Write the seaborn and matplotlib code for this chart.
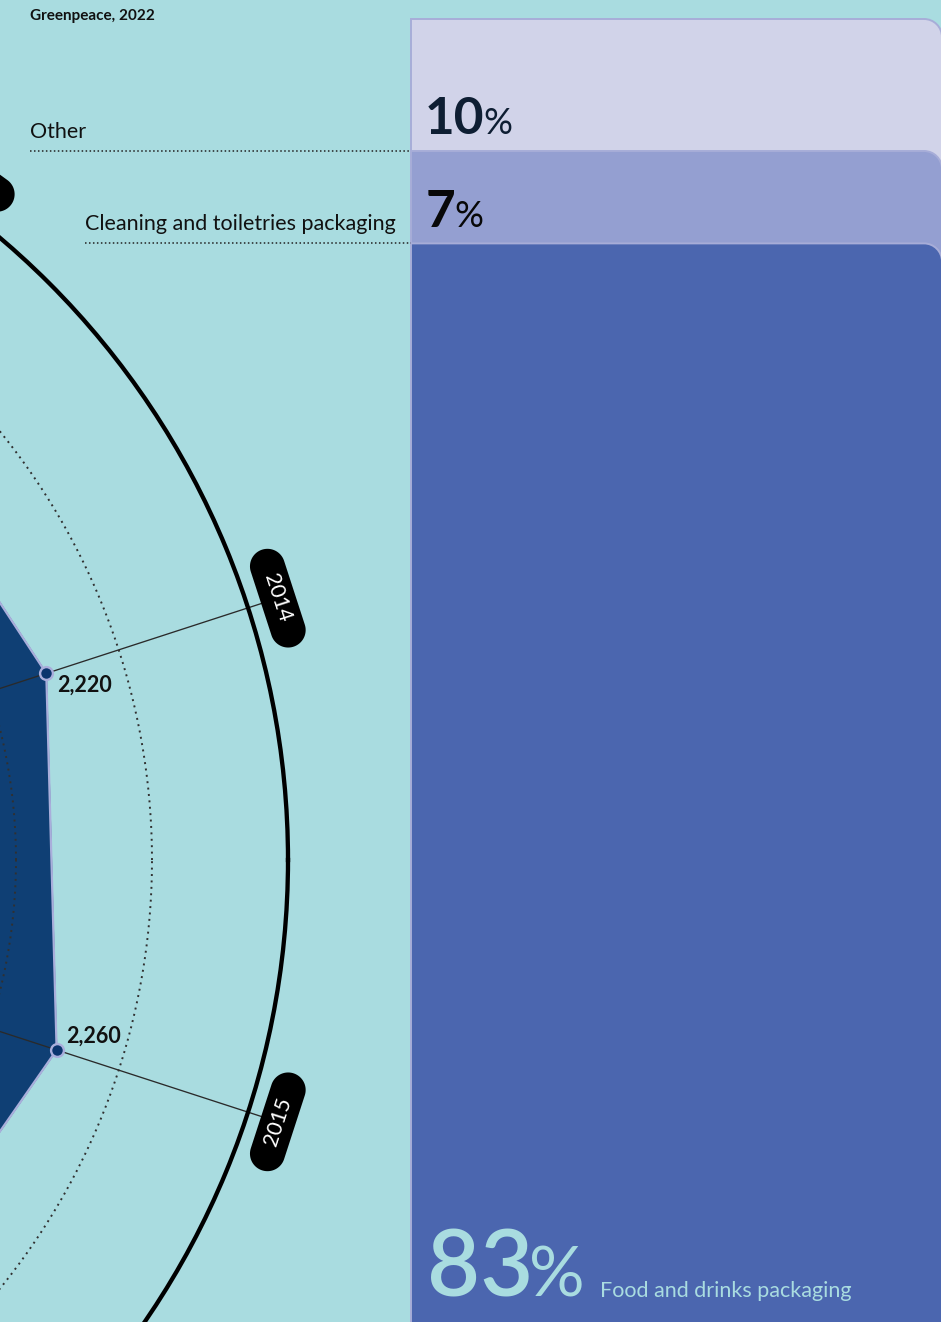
import numpy as np
import pandas as pd
import matplotlib
matplotlib.use("Agg")
import matplotlib.pyplot as plt
import seaborn as sns
from matplotlib.path import Path
from matplotlib.patches import PathPatch, Polygon

# ---------------- data ----------------
years = [2010, 2011, 2012, 2013, 2014, 2015, 2016, 2017, 2018, 2019]
waste_values = [2240, 2260, 2300, 2290, 2220, 2260, 2290, 2300, 2280, 2250]
ring_values = [2000, 2500]
outer_value = 3000
pill_value = 3115

categories = ["Other", "Cleaning and toiletries packaging", "Food and drinks packaging"]
shares = [10, 7, 83]
source_text = "Greenpeace, 2022"

# ---------------- style ----------------
BG = "#A9DCE0"
FILL = "#0F3F74"
EDGE = "#A9AEDB"
POINT = "#0B356E"
SEG_COLORS = ["#D1D3E9", "#949FD1", "#4B66AF"]
BORDER = "#A7ADD8"
NUM_COLORS = ["#0E1E33", "#080808", "#A9DCE0"]

sns.set_theme(style="white")
plt.rcParams["font.family"] = ["Lato", "DejaVu Sans"]

W, H = 941, 1322
fig = plt.figure(figsize=(W / 100, H / 100), dpi=100, facecolor=BG)

# ---------------- radial chart ----------------
cx, cy, R = -528, 860, 816
axp = fig.add_axes([(cx - R) / W, 1 - (cy + R) / H, 2 * R / W, 2 * R / H],
                   projection="polar")
axp.set_facecolor("none")
axp.patch.set_visible(False)
axp.set_ylim(0, outer_value)

theta = np.deg2rad(162 - 36 * np.arange(len(years)))
vals = np.array(waste_values, dtype=float)
th_c = np.append(theta, theta[0])
v_c = np.append(vals, vals[0])


def polar_px(th, v):
    """(theta, value) -> picture pixels (x right, y down) via the polar axes."""
    dx, dy = axp.transData.transform((th, v))
    return dx, H - dy


axp.fill(th_c, v_c, color=FILL, zorder=1)
axp.plot(th_c, v_c, color=EDGE, lw=1.6, zorder=3)

# spokes
for th in theta:
    axp.plot([th, th], [0, pill_value], color="#2a2a2a", lw=0.95, zorder=2,
             clip_on=False)

# rings
ring_theta = np.linspace(0, 2 * np.pi, 1441)
for rv in ring_values:
    axp.plot(ring_theta, np.full_like(ring_theta, rv), color="#303030", lw=1.4,
             linestyle=(0, (1, 2.3)), zorder=2.5)

axp.scatter(theta, vals, s=85, color=POINT, edgecolors=EDGE, linewidths=1.7,
            zorder=5)

# value labels (only those whose anchor lies inside the picture)
for th, v in zip(theta, vals):
    if polar_px(th, v)[0] < 0:
        continue
    up = np.sin(th) > 0
    off = (11, -18) if up else (9, 7)
    axp.annotate(f"{int(v):,}", xy=(th, v), xytext=off, textcoords="offset pixels",
                 ha="left", va="baseline", fontsize=15.5, fontweight="bold",
                 color="#111111", zorder=6, annotation_clip=False)

axp.set_xticks([])
axp.set_yticks([])
axp.grid(False)
axp.spines["polar"].set_linewidth(3.1)
axp.spines["polar"].set_color("black")

# ---------------- stacked bar ----------------
bar_top_px, px_per_pct = 19, 13.2
bar_left_px, bar_right_px = 411, 942
axb = fig.add_axes([bar_left_px / W, 1 - (bar_top_px + 100 * px_per_pct) / H,
                    (bar_right_px - bar_left_px) / W, 100 * px_per_pct / H])
cum_from_bottom = list(np.cumsum(shares[::-1])[::-1])  # [100, 90, 83]
df = pd.DataFrame({"bar": ["share"] * 3, "extent": cum_from_bottom,
                   "category": categories})
sns.barplot(data=df, x="bar", y="extent", hue="category", hue_order=categories,
            palette=SEG_COLORS, dodge=False, width=1, legend=False, ax=axb,
            saturation=1)
axb.set_xlim(-0.5, 0.5)
axb.set_ylim(0, 100)
axb.set_axis_off()

px_x = (bar_right_px - bar_left_px) / 1.0
rx = 18 / px_x
ry = 18 / px_per_pct
k = 0.5523
rects = sorted(list(axb.patches), key=lambda p: -p.get_height())
for i, p in enumerate(rects):
    x0, y0, w, h = p.get_x(), p.get_y(), p.get_width(), p.get_height()
    x1, top = x0 + w, y0 + h
    verts = [(x0, y0), (x0, top), (x1 - rx, top),
             (x1 - rx + k * rx, top), (x1, top - ry + k * ry), (x1, top - ry),
             (x1, y0), (x0, y0)]
    codes = [Path.MOVETO, Path.LINETO, Path.LINETO, Path.CURVE4, Path.CURVE4,
             Path.CURVE4, Path.LINETO, Path.CLOSEPOLY]
    fc = p.get_facecolor()
    p.remove()
    axb.add_patch(PathPatch(Path(verts, codes), facecolor=fc, edgecolor=BORDER,
                            lw=1.4, zorder=2 + i, clip_on=False))

# ---------------- overlay (pixel coordinates) ----------------
axo = fig.add_axes([0, 0, 1, 1])
axo.set_xlim(0, W)
axo.set_ylim(H, 0)
axo.set_axis_off()
axo.set_facecolor("none")

# year pills: stadium shapes tangent to the circle at the pill radius
half_len, cap_r = 33.5, 17.5
for th, yr in zip(theta, years):
    pxc, pyc = polar_px(th, pill_value)
    tx, ty = np.sin(th), np.cos(th)        # tangent (clockwise), pixel space
    nx, ny = np.cos(th), -np.sin(th)       # outward normal, pixel space
    a1 = np.linspace(-np.pi / 2, np.pi / 2, 40)
    a2 = np.linspace(np.pi / 2, 3 * np.pi / 2, 40)
    e1 = np.array([pxc + half_len * tx, pyc + half_len * ty])
    e2 = np.array([pxc - half_len * tx, pyc - half_len * ty])
    pts1 = [e1 + cap_r * (np.cos(a) * np.array([tx, ty]) + np.sin(a) * np.array([nx, ny])) for a in a1]
    pts2 = [e2 + cap_r * (np.cos(a) * np.array([tx, ty]) + np.sin(a) * np.array([nx, ny])) for a in a2]
    axo.add_patch(Polygon(np.array(pts1 + pts2), closed=True, facecolor="black",
                          edgecolor="none", zorder=5))
    if pxc < 0:
        continue
    deg = np.rad2deg(th)
    rot = deg - 90 if np.sin(th) > 0 else deg + 90
    axo.text(pxc, pyc, str(yr), rotation=rot, rotation_mode="anchor",
             ha="center", va="center", color="white", fontsize=15.5, zorder=6)


def bar_to_px(x, y):
    dx, dy = axb.transData.transform((x, y))
    return dx, H - dy


axo.text(30, 20, source_text, fontsize=11, fontweight="bold", color="#111111",
         ha="left", va="baseline")

seg_bottoms = [100 - s for s in np.cumsum(shares)]  # 90, 83, 0
label_x = [30, 85]
for i in range(2):
    _, ypx = bar_to_px(-0.5, seg_bottoms[i])
    axo.plot([label_x[i], bar_left_px], [ypx, ypx], color="#222222", lw=1.1,
             linestyle=(0, (1, 1.6)))
    axo.text(label_x[i], ypx - 13, categories[i], fontsize=15.5, color="#111111",
             ha="left", va="baseline")

num_sizes = [37, 37, 66]
pct_sizes = [26, 26, 50]
pct_gaps = [-1, -1, -4]
num_offsets = [(14, 17), (15, 16), (16, 42)]
num_texts = []
for i in range(3):
    _, ypx = bar_to_px(-0.5, seg_bottoms[i])
    t = axo.text(bar_left_px + num_offsets[i][0], ypx - num_offsets[i][1],
                 str(shares[i]), fontsize=num_sizes[i],
                 fontweight="bold" if i < 2 else "semibold",
                 color=NUM_COLORS[i], ha="left", va="baseline")
    num_texts.append((t, ypx - num_offsets[i][1]))

fig.canvas.draw()
rend = fig.canvas.get_renderer()
for i, (t, yb) in enumerate(num_texts):
    bb = t.get_window_extent(renderer=rend)
    pt = axo.text(bb.x1 + pct_gaps[i], yb, "%", fontsize=pct_sizes[i],
                  fontweight="normal", color=NUM_COLORS[i], ha="left",
                  va="baseline")
    if i == 2:
        fig.canvas.draw()
        pbb = pt.get_window_extent(renderer=rend)
        axo.text(pbb.x1 + 15, yb, categories[2], fontsize=15.5, color=BG,
                 ha="left", va="baseline")

fig.savefig("out.png", dpi=100, facecolor=BG)
